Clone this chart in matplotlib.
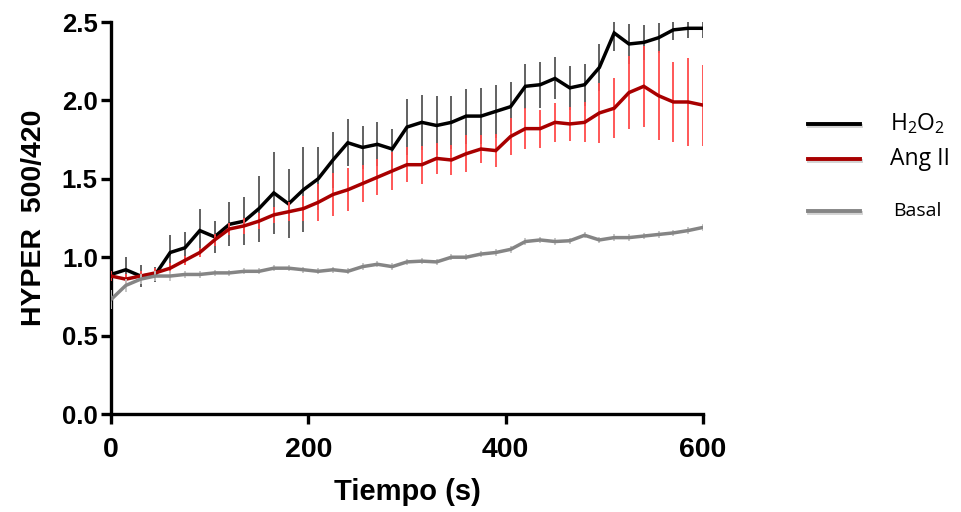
"""HyPer 500/420 ratio over time for H2O2, Ang II and basal conditions."""

import matplotlib
matplotlib.use("Agg")
import matplotlib.pyplot as plt
import matplotlib.patheffects as pe
import numpy as np

# time points (s), one every 15 s
tiempo = np.arange(0, 601, 15)

h2o2_mean = [0.89, 0.92, 0.88, 0.89, 1.03, 1.06, 1.17, 1.13, 1.21, 1.23,
             1.31, 1.41, 1.34, 1.43, 1.50, 1.62, 1.73, 1.70, 1.72, 1.69,
             1.83, 1.86, 1.84, 1.86, 1.90, 1.90, 1.93, 1.96, 2.09, 2.10,
             2.14, 2.08, 2.10, 2.21, 2.43, 2.36, 2.37, 2.40, 2.45, 2.46,
             2.46]
h2o2_sem = [0.05, 0.08, 0.07, 0.05, 0.11, 0.10, 0.135, 0.10, 0.14, 0.155,
            0.21, 0.26, 0.22, 0.27, 0.20, 0.18, 0.15, 0.14, 0.14, 0.13,
            0.18, 0.175, 0.185, 0.17, 0.175, 0.18, 0.17, 0.16, 0.145, 0.147,
            0.134, 0.14, 0.134, 0.148, 0.117, 0.125, 0.11, 0.096, 0.064, 0.06,
            0.06]

angii_mean = [0.88, 0.86, 0.88, 0.90, 0.93, 0.98, 1.03, 1.11, 1.18, 1.20,
              1.23, 1.27, 1.29, 1.31, 1.35, 1.40, 1.43, 1.47, 1.51, 1.55,
              1.59, 1.59, 1.63, 1.62, 1.66, 1.69, 1.68, 1.77, 1.82, 1.82,
              1.86, 1.85, 1.86, 1.92, 1.95, 2.05, 2.09, 2.03, 1.99, 1.99,
              1.97]
angii_sem = [0.03, 0.03, 0.03, 0.03, 0.03, 0.03, 0.03, 0.04, 0.04, 0.05,
             0.05, 0.05, 0.06, 0.08, 0.117, 0.134, 0.138, 0.12, 0.115, 0.123,
             0.11, 0.12, 0.10, 0.097, 0.117, 0.09, 0.107, 0.12, 0.13, 0.122,
             0.124, 0.11, 0.128, 0.19, 0.19, 0.234, 0.26, 0.284, 0.255, 0.283,
             0.258]

basal_mean = [0.73, 0.82, 0.86, 0.88, 0.88, 0.89, 0.89, 0.90, 0.90, 0.91,
              0.91, 0.93, 0.93, 0.92, 0.91, 0.92, 0.91, 0.94, 0.955, 0.94,
              0.97, 0.975, 0.97, 1.00, 1.00, 1.02, 1.03, 1.05, 1.10, 1.11,
              1.10, 1.105, 1.14, 1.11, 1.125, 1.125, 1.135, 1.145, 1.155, 1.17,
              1.19]
basal_sem = [0.06, 0.04, 0.03, 0.03, 0.03, 0.02, 0.02, 0.02, 0.02, 0.02,
             0.02, 0.02, 0.02, 0.02, 0.02, 0.02, 0.02, 0.02, 0.02, 0.02,
             0.02, 0.02, 0.02, 0.02, 0.02, 0.02, 0.02, 0.02, 0.02, 0.02,
             0.02, 0.02, 0.02, 0.02, 0.02, 0.02, 0.02, 0.02, 0.02, 0.02,
             0.02]

labels = [r"H$_2$O$_2$", "Ang II", "Basal"]
line_colors = ["#000000", "#a80000", "#858585"]
bar_colors = ["#555555", "#ff4a4a", "#c4c4c4"]

plt.rcParams["mathtext.default"] = "regular"

fig = plt.figure(figsize=(9.61, 5.12), dpi=100)
ax = fig.add_axes([0.1155, 0.1914, 0.616, 0.7656])

series = [(h2o2_mean, h2o2_sem), (angii_mean, angii_sem), (basal_mean, basal_sem)]
for k, (mean, sem) in enumerate(series):
    ax.errorbar(tiempo, mean, yerr=sem, color=line_colors[k], ecolor=bar_colors[k],
                elinewidth=1.3, capsize=0, linewidth=2.5, zorder=2 + k,
                solid_joinstyle="miter")

ax.set_xlim(0, 600)
ax.set_ylim(0, 2.5)
ax.set_xticks([0, 200, 400, 600])
ax.set_yticks(np.arange(0, 2.51, 0.5))
ax.set_yticklabels([f"{v:.1f}" for v in np.arange(0, 2.51, 0.5)])

for side in ("top", "right"):
    ax.spines[side].set_visible(False)
for side in ("left", "bottom"):
    ax.spines[side].set_linewidth(2.4)
ax.tick_params(direction="out", length=7.5, width=2.4)
ax.tick_params(axis="x", pad=9)
ax.tick_params(axis="y", pad=2)

for lab in ax.get_yticklabels():
    lab.set_fontfamily("Liberation Sans")
    lab.set_fontweight("bold")
    lab.set_fontsize(18.5)
for lab in ax.get_xticklabels():
    lab.set_fontfamily("Liberation Sans")
    lab.set_fontweight("bold")
    lab.set_fontsize(20.5)

label_font = dict(family="Liberation Sans", weight="bold")
ax.set_xlabel("Tiempo (s)", fontdict=dict(label_font, size=21), labelpad=11)
ax.set_ylabel("HYPER  500/420", fontdict=dict(label_font, size=20.5), labelpad=11)

# legend drawn by hand, outside the axes
leg_y = [0.758, 0.689, 0.588]
leg_sizes = [16.5, 16.5, 14]
leg_dx = [0.926, 0.926, 0.929]
for k in range(3):
    fig.add_artist(plt.Line2D([0.841, 0.895], [leg_y[k], leg_y[k]],
                              transform=fig.transFigure, color=line_colors[k],
                              linewidth=2.8,
                              path_effects=[pe.SimpleLineShadow(offset=(0.8, -1.5),
                                                                shadow_color="grey",
                                                                alpha=0.35),
                                            pe.Normal()]))
    fig.text(leg_dx[k], leg_y[k], labels[k], fontsize=leg_sizes[k],
             family="Open Sans", va="center", ha="left")

fig.savefig("out.png", dpi=100)
